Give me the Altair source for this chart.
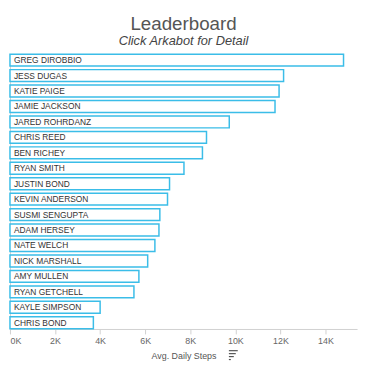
import altair as alt
import pandas as pd

names = ["GREG DIROBBIO", "JESS DUGAS", "KATIE PAIGE", "JAMIE JACKSON", "JARED ROHRDANZ",
         "CHRIS REED", "BEN RICHEY", "RYAN SMITH", "JUSTIN BOND", "KEVIN ANDERSON",
         "SUSMI SENGUPTA", "ADAM HERSEY", "NATE WELCH", "NICK MARSHALL", "AMY MULLEN",
         "RYAN GETCHELL", "KAYLE SIMPSON", "CHRIS BOND"]
steps = [14800, 12140, 11940, 11760, 9730, 8720, 8540, 7720, 7080, 6990,
         6650, 6610, 6430, 6110, 5720, 5500, 4000, 3700]

df = pd.DataFrame({"name": names, "steps": steps})

FONT = "Liberation Sans"
W, H = 352, 279

y = alt.Y("name:N", sort=names,
          scale=alt.Scale(paddingInner=0.23, paddingOuter=0.02),
          axis=alt.Axis(title=None, labels=False, ticks=False, domain=True,
                        domainColor="#d0d0d0", grid=False))
x = alt.X("steps:Q", scale=alt.Scale(domain=[0, 15400], nice=False),
          axis=alt.Axis(title="Avg. Daily Steps", values=list(range(0, 16000, 2000)),
                        labelExpr="datum.value/1000 + 'K'", grid=False,
                        domainColor="#d0d0d0", tickColor="#d0d0d0", tickSize=5,
                        labelColor="#666666", labelFontSize=9, labelFont=FONT,
                        titleColor="#555555", titleFontSize=9, titleFont=FONT,
                        titleFontWeight="normal", titlePadding=6, labelPadding=3))

bars = alt.Chart(df).mark_bar(fill="white", stroke="#3bbde8", strokeWidth=1.5).encode(
    x=x, y=y)

labels = alt.Chart(df).mark_text(align="left", baseline="middle", dx=4,
                                 font=FONT, fontSize=8.5, color="#333333").encode(
    x=alt.datum(0), y=alt.Y("name:N", sort=names), text="name:N")

# small sort icon next to the axis title (decorative UI glyph)
icon_rows = [(22, 9), (25, 7), (28, 5), (31, 2)]
icon_layers = [
    alt.Chart(df.head(1)).mark_rule(color="#555555", strokeWidth=1.2).encode(
        x=alt.value(222), x2=alt.value(222 + w), y=alt.value(H + dy))
    for dy, w in icon_rows
]

chart = alt.layer(bars, labels, *icon_layers).properties(
    width=W, height=H,
    padding={"left": 1, "top": 4, "right": 4, "bottom": 2},
    title=alt.TitleParams(text="Leaderboard", subtitle="Click Arkabot for Detail",
                          font=FONT, fontSize=19, fontWeight="normal", color="#555555",
                          subtitleFont=FONT, subtitleFontSize=13, subtitleFontStyle="italic",
                          subtitleColor="#444444", anchor="middle", offset=6,
                          subtitlePadding=1)
).configure_view(stroke=None)

chart.save("out.html", embed_options={"renderer": "svg", "actions": False})
